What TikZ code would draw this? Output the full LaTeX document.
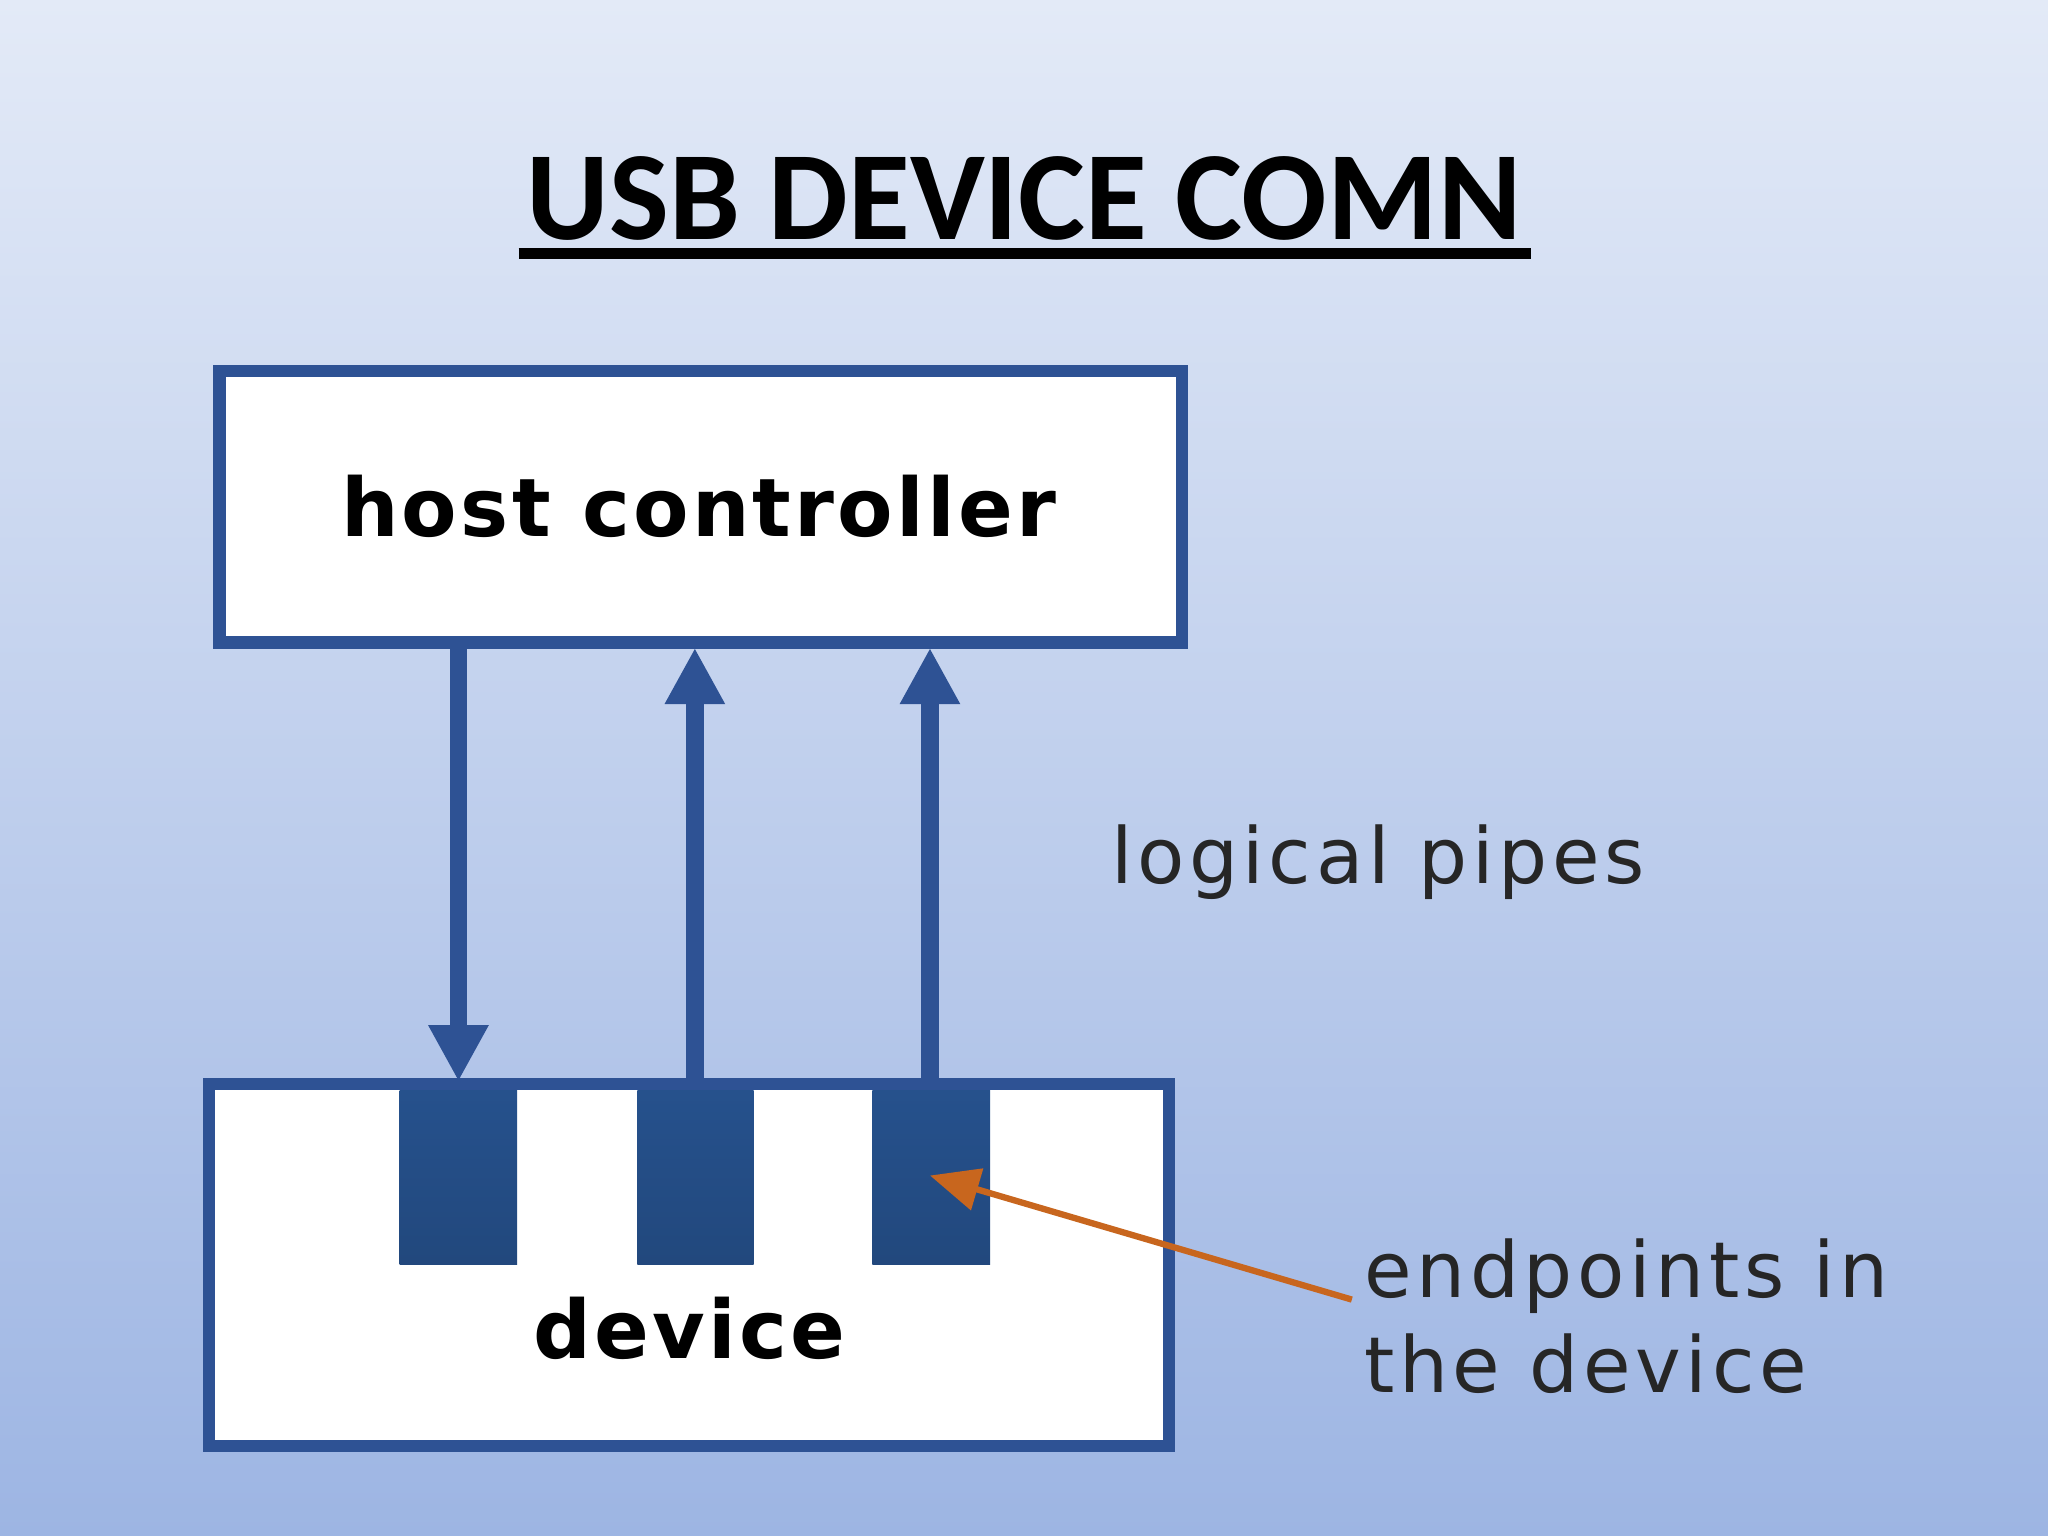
\documentclass[tikz,border=0pt]{standalone}
\usepackage{fontspec}
\setmainfont{DejaVu Sans}
\newfontfamily\titlefont{Carlito}
\newfontfamily\widefont[LetterSpace=6]{DejaVu Sans}
\newfontfamily\widebold[LetterSpace=4]{DejaVu Sans Bold}
\usetikzlibrary{arrows.meta}
\definecolor{bord}{HTML}{2E5294}
\definecolor{ep}{HTML}{2A5A9C}
\definecolor{org}{HTML}{C8661E}
\begin{document}
\begin{tikzpicture}[x=0.01306cm,y=-0.01306cm,
  box/.style={draw=bord,line width=3.5pt,fill=white},
  ept/.style={top color=ep!90!black,bottom color=ep!80!black,draw=none},
  pipe/.style={draw=bord,line width=5pt,-{Triangle[width=16pt,length=16pt]}},
  lbl/.style={text=black!85,font=\widefont\fontsize{22}{27}\selectfont,align=left}]
\shade[top color={rgb,255:red,227;green,234;blue,247},bottom color={rgb,255:red,157;green,181;blue,227}] (0,0) rectangle (1568,1176);
\useasboundingbox (0,0) rectangle (1568,1176);
\node (title) at (784,152) {\titlefont\bfseries\fontsize{36}{44}\selectfont USB DEVICE COMN};
\draw[line width=3pt] (397,194) -- (1172,194);
\node[box,minimum width=737*0.01306cm,minimum height=208*0.01306cm] (host) at (536.5,388) {};
\node at (535,388) {\widebold\fontsize{23}{27}\selectfont host controller};
\node[box,minimum width=735*0.01306cm,minimum height=277*0.01306cm] (dev) at (527.5,968.5) {};
\node (devt) at (528,1017) {\widebold\fontsize{23}{27}\selectfont device};
\path[ept] (306,835) rectangle (396,968);
\path[ept] (488,835) rectangle (577,968);
\path[ept] (668,835) rectangle (758,968);
\coordinate (a1) at (351,492); \coordinate (b1) at (351,828);
\coordinate (a2) at (532,834); \coordinate (b2) at (532,496);
\coordinate (a3) at (712,834); \coordinate (b3) at (712,496);
\draw[pipe] (a1) -- (b1);
\draw[pipe] (a2) -- (b2);
\draw[pipe] (a3) -- (b3);
\node[lbl] (lp) at (1055,660) {logical pipes};
\node[lbl,anchor=west] (et) at (1035,1008) {endpoints in\\the device};
\coordinate (tip) at (712,900);
\draw[org,line width=1.8pt,-{Triangle[width=12pt,length=14pt]}] (1035,995) -- (tip);
\end{tikzpicture}
\end{document}
